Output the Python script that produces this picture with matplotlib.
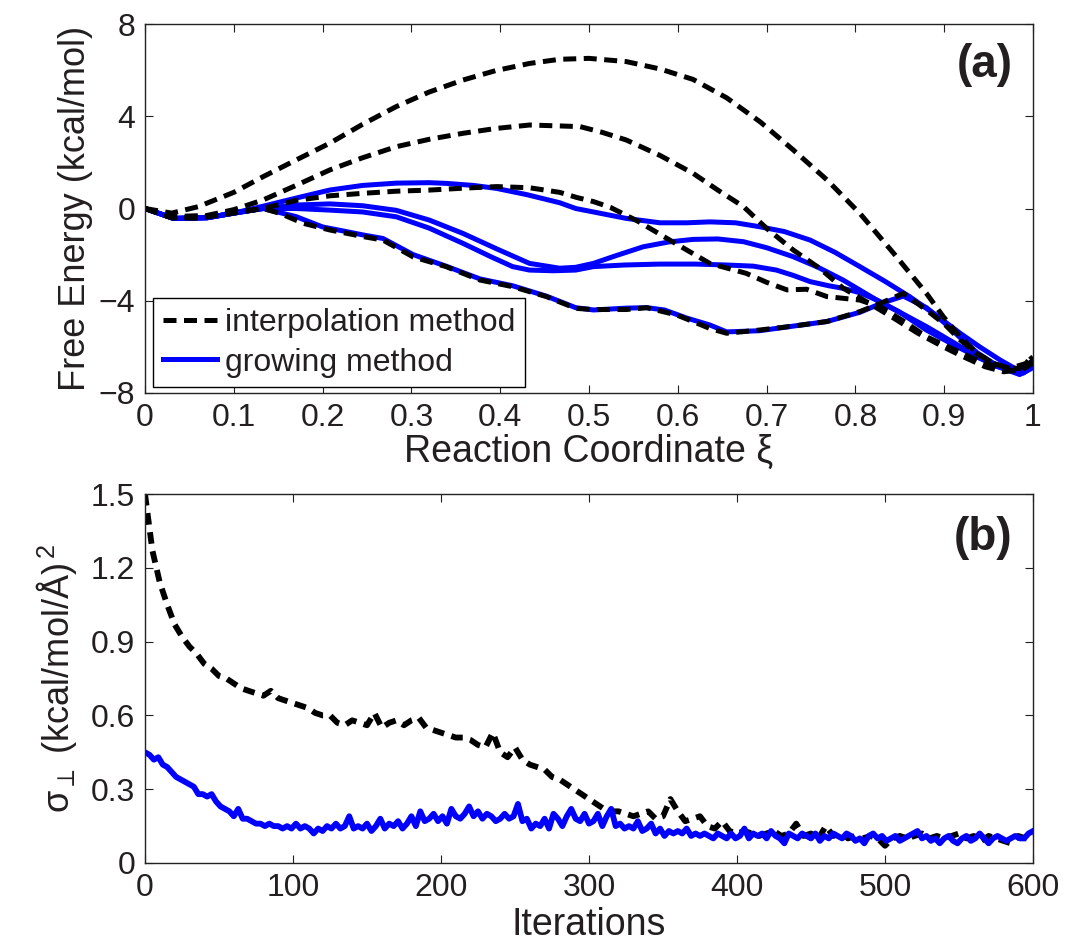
import numpy as np
import matplotlib
matplotlib.use("Agg")
import matplotlib.pyplot as plt
from matplotlib.ticker import FuncFormatter

plt.rcParams['font.family'] = ['Liberation Sans', 'DejaVu Sans']
plt.rcParams['mathtext.fontset'] = 'custom'
plt.rcParams['mathtext.rm'] = 'Liberation Sans'
plt.rcParams['mathtext.it'] = 'Liberation Sans:italic'

# --- panel (a): free energy profiles ---
xi_i1 = [0, 0.03, 0.06, 0.1, 0.133, 0.17, 0.208, 0.245, 0.283, 0.32, 0.358, 0.395, 0.433, 0.467,
         0.5, 0.542, 0.58, 0.617, 0.655, 0.693, 0.73, 0.768, 0.805, 0.843, 0.88, 0.899,
         0.918, 0.937, 0.955, 0.974, 0.992, 1.0]
fe_i1 = [0, -0.2, 0.08, 0.7, 1.38, 2.1, 2.83, 3.65, 4.42, 5.05, 5.57, 5.98, 6.29, 6.47,
         6.51, 6.37, 6.05, 5.6, 4.8, 3.75, 2.54, 1.24, -0.21, -1.94, -3.68, -4.69,
         -5.56, -6.28, -6.71, -6.93, -6.72, -6.35]

xi_i2 = [0, 0.03, 0.07, 0.1, 0.133, 0.17, 0.208, 0.245, 0.283, 0.32, 0.358, 0.395, 0.433, 0.467,
         0.49, 0.515, 0.542, 0.58, 0.617, 0.645, 0.674, 0.70, 0.73, 0.76, 0.786, 0.815, 0.843,
         0.87, 0.899, 0.92, 0.946, 0.967, 0.985, 1.0]
fe_i2 = [0, -0.35, -0.3, -0.05, 0.37, 1.0, 1.67, 2.2, 2.68, 3.0, 3.26, 3.47, 3.62, 3.58,
         3.55, 3.3, 2.97, 2.3, 1.53, 0.8, 0.08, -0.86, -1.8, -2.6, -3.45, -4.1, -4.75,
         -5.4, -6.0, -6.4, -6.86, -7.08, -7.0, -6.6]

xi_i3 = [0, 0.03, 0.07, 0.1, 0.133, 0.17, 0.208, 0.246, 0.283, 0.321, 0.358, 0.396, 0.433, 0.467,
         0.486, 0.505, 0.524, 0.555, 0.591, 0.636, 0.677, 0.70, 0.723, 0.745, 0.768, 0.805, 0.83,
         0.855, 0.88, 0.91, 0.937, 0.970, 0.985, 1.0]
fe_i3 = [0, -0.4, -0.35, -0.15, 0.0, 0.35, 0.55, 0.66, 0.75, 0.8, 0.88, 0.95, 0.9, 0.7,
         0.48, 0.3, 0.05, -0.55, -1.37, -2.38, -2.81, -3.2, -3.53, -3.5, -3.82, -3.97, -4.3,
         -4.9, -5.56, -6.1, -6.57, -7.0, -7.05, -6.7]

xi_i4 = [0, 0.03, 0.06, 0.1, 0.133, 0.152, 0.178, 0.208, 0.246, 0.268, 0.302, 0.339, 0.377, 0.414,
         0.452, 0.485, 0.505, 0.542, 0.565, 0.599, 0.617, 0.636, 0.655, 0.692, 0.73, 0.768,
         0.805, 0.824, 0.854, 0.88, 0.90, 0.918, 0.937, 0.955, 0.97, 0.985, 1.0]
fe_i4 = [0, -0.4, -0.42, -0.2, 0.0, -0.21, -0.64, -0.93, -1.22, -1.37, -2.1, -2.52, -3.1, -3.39,
         -3.82, -4.33, -4.38, -4.38, -4.3, -4.62, -4.9, -5.2, -5.41, -5.27, -5.1, -4.9,
         -4.47, -4.18, -3.68, -4.4, -5.0, -5.7, -6.3, -6.71, -6.9, -6.94, -6.43]

xi_g1 = [0, 0.032, 0.07, 0.1, 0.133, 0.17, 0.208, 0.245, 0.283, 0.32, 0.339, 0.37, 0.396, 0.43,
         0.467, 0.485, 0.505, 0.542, 0.58, 0.61, 0.636, 0.665, 0.692, 0.72, 0.749, 0.777, 0.805,
         0.833, 0.861, 0.89, 0.918, 0.94, 0.963, 0.989, 1.0]
fe_g1 = [0, -0.43, -0.4, -0.2, 0.1, 0.45, 0.8, 1.0, 1.1, 1.12, 1.09, 1.0, 0.87, 0.6,
         0.25, 0.0, -0.15, -0.43, -0.62, -0.62, -0.58, -0.62, -0.79, -1.0, -1.37, -1.9, -2.52,
         -3.15, -3.82, -4.6, -5.41, -6.0, -6.57, -7.14, -6.86]

xi_g2 = [0, 0.032, 0.07, 0.1, 0.133, 0.17, 0.208, 0.245, 0.283, 0.32, 0.358, 0.396, 0.433, 0.467,
         0.485, 0.505, 0.53, 0.561, 0.59, 0.617, 0.645, 0.674, 0.70, 0.730, 0.758, 0.786, 0.824,
         0.85, 0.880, 0.91, 0.937, 0.96, 0.985, 1.0]
fe_g2 = [0, -0.43, -0.4, -0.2, 0.0, 0.15, 0.2, 0.12, -0.08, -0.5, -1.08, -1.75, -2.38, -2.59,
         -2.55, -2.38, -2.05, -1.66, -1.45, -1.34, -1.32, -1.44, -1.7, -2.09, -2.55, -3.1, -3.97,
         -4.5, -5.27, -5.9, -6.43, -6.85, -7.14, -6.86]

xi_g3 = [0, 0.032, 0.07, 0.1, 0.133, 0.17, 0.208, 0.245, 0.283, 0.32, 0.358, 0.39, 0.414, 0.433,
         0.46, 0.485, 0.505, 0.54, 0.58, 0.62, 0.655, 0.685, 0.711, 0.73, 0.749, 0.77, 0.786,
         0.805, 0.824, 0.85, 0.880, 0.91, 0.937, 0.96, 0.985, 1.0]
fe_g3 = [0, -0.43, -0.4, -0.2, 0.0, 0.0, -0.07, -0.15, -0.36, -0.85, -1.51, -2.1, -2.52, -2.67,
         -2.7, -2.67, -2.52, -2.45, -2.41, -2.41, -2.45, -2.5, -2.67, -2.9, -3.17, -3.35, -3.46,
         -3.65, -3.97, -4.5, -5.12, -5.8, -6.43, -6.85, -7.2, -6.9]

xi_g4 = [0, 0.032, 0.07, 0.1, 0.133, 0.17, 0.2, 0.22, 0.246, 0.268, 0.302, 0.339, 0.377, 0.414,
         0.452, 0.485, 0.505, 0.542, 0.565, 0.585, 0.61, 0.636, 0.655, 0.692, 0.73, 0.768,
         0.805, 0.83, 0.854, 0.88, 0.90, 0.918, 0.937, 0.955, 0.97, 0.985, 1.0]
fe_g4 = [0, -0.43, -0.4, -0.2, 0.0, -0.35, -0.8, -0.95, -1.15, -1.3, -2.0, -2.5, -3.05, -3.35,
         -3.8, -4.3, -4.4, -4.32, -4.3, -4.4, -4.75, -5.05, -5.35, -5.3, -5.1, -4.9,
         -4.5, -4.1, -3.8, -4.3, -4.95, -5.6, -6.25, -6.7, -6.95, -7.05, -6.6]

# --- panel (b): sigma vs iterations ---
sigma_interp = [1.50, 1.27, 1.14, 1.05, 0.97, 0.92, 0.88, 0.85, 0.81, 0.79, 0.76, 0.75, 0.73,
                0.71, 0.70, 0.69, 0.68, 0.70, 0.67, 0.66, 0.65, 0.64, 0.63, 0.61, 0.60, 0.60,
                0.57, 0.56, 0.58, 0.57, 0.56, 0.61, 0.55, 0.57, 0.58, 0.56, 0.58, 0.59, 0.55,
                0.54, 0.53, 0.52, 0.51, 0.51, 0.50, 0.48, 0.47, 0.53, 0.45, 0.43, 0.47, 0.42,
                0.40, 0.39, 0.38, 0.35, 0.34, 0.32, 0.30, 0.28, 0.26, 0.24, 0.22, 0.21, 0.21,
                0.20, 0.19, 0.20, 0.21, 0.18, 0.19, 0.26, 0.21, 0.17, 0.18, 0.19, 0.15, 0.14,
                0.17, 0.13, 0.12, 0.13, 0.12, 0.11, 0.12, 0.13, 0.11, 0.12, 0.16, 0.11, 0.12,
                0.10, 0.15, 0.11, 0.12, 0.10, 0.11, 0.10, 0.11, 0.10, 0.07, 0.10, 0.11, 0.10,
                0.11, 0.12, 0.10, 0.11, 0.10, 0.11, 0.12, 0.10, 0.11, 0.09, 0.11, 0.10, 0.09,
                0.08, 0.11, 0.10, 0.11]
sigma_grow = [0.45, 0.44, 0.42, 0.43, 0.40, 0.39, 0.37, 0.35, 0.34, 0.33, 0.32, 0.31, 0.28, 0.28,
              0.27, 0.28, 0.25, 0.23, 0.22, 0.21, 0.19, 0.22, 0.18, 0.18, 0.17, 0.16, 0.16, 0.15,
              0.16, 0.15, 0.15, 0.14, 0.15, 0.14, 0.16, 0.14, 0.15, 0.14, 0.12, 0.14, 0.13, 0.15,
              0.14, 0.16, 0.14, 0.15, 0.19, 0.14, 0.15, 0.14, 0.16, 0.13, 0.15, 0.18, 0.14, 0.16,
              0.15, 0.17, 0.14, 0.16, 0.19, 0.15, 0.21, 0.17, 0.18, 0.20, 0.17, 0.19, 0.16, 0.22,
              0.19, 0.18, 0.20, 0.23, 0.19, 0.21, 0.18, 0.20, 0.19, 0.17, 0.18, 0.20, 0.18, 0.19,
              0.24, 0.17, 0.18, 0.14, 0.16, 0.15, 0.18, 0.14, 0.20, 0.18, 0.15, 0.19, 0.22, 0.18,
              0.17, 0.20, 0.16, 0.17, 0.20, 0.15, 0.19, 0.22, 0.15, 0.16, 0.14, 0.15, 0.14, 0.17,
              0.13, 0.14, 0.16, 0.12, 0.14, 0.11, 0.13, 0.12, 0.13, 0.12, 0.14, 0.11, 0.12, 0.11,
              0.12, 0.11, 0.10, 0.12, 0.11, 0.10, 0.12, 0.10, 0.11, 0.14, 0.10, 0.12, 0.11, 0.12,
              0.10, 0.13, 0.11, 0.10, 0.08, 0.12, 0.11, 0.10, 0.12, 0.11, 0.10, 0.12, 0.09, 0.11,
              0.10, 0.12, 0.11, 0.10, 0.12, 0.11, 0.09, 0.10, 0.08, 0.11, 0.12, 0.10, 0.11, 0.09,
              0.10, 0.11, 0.09, 0.10, 0.11, 0.12, 0.13, 0.10, 0.11, 0.09, 0.10, 0.08, 0.10, 0.11,
              0.09, 0.08, 0.10, 0.11, 0.09, 0.10, 0.12, 0.10, 0.08, 0.10, 0.11, 0.10, 0.09, 0.10,
              0.11, 0.10, 0.10, 0.12, 0.13]
iter_interp = np.linspace(0, 600, len(sigma_interp))
iter_grow = np.linspace(0, 600, len(sigma_grow))

xticks_a = [0, 0.1, 0.2, 0.3, 0.4, 0.5, 0.6, 0.7, 0.8, 0.9, 1]
yticks_a = [-8, -4, 0, 4, 8]
xticks_b = [0, 100, 200, 300, 400, 500, 600]
yticks_b = [0, 0.3, 0.6, 0.9, 1.2, 1.5]

BLUE = '#0000ff'
TXT = '#231f20'
FS = 23


def fmt(v, pos):
    return ('%g' % v).replace('-', '\u2212')


def style(ax):
    ax.tick_params(direction='in', length=6, width=0.8, top=True, right=True,
                   labelsize=FS, colors=TXT, pad=7)
    for s in ax.spines.values():
        s.set_linewidth(1.0)
        s.set_color('#222222')
    ax.xaxis.set_major_formatter(FuncFormatter(fmt))
    ax.yaxis.set_major_formatter(FuncFormatter(fmt))


fig = plt.figure(figsize=(10.65, 9.42), dpi=100)
W, H = 1065, 942
ax1 = fig.add_axes([145 / W, 1 - 393 / H, 888 / W, 369 / H])
ax2 = fig.add_axes([145 / W, 1 - 863 / H, 888 / W, 369 / H])

# panel (a)
lw_a = 3.6
dash_a = (2.6, 1.5)
for xs, ys in [(xi_g1, fe_g1), (xi_g2, fe_g2), (xi_g3, fe_g3), (xi_g4, fe_g4)]:
    ax1.plot(xs, ys, color=BLUE, lw=lw_a, solid_joinstyle='round')
for xs, ys in [(xi_i1, fe_i1), (xi_i2, fe_i2), (xi_i3, fe_i3), (xi_i4, fe_i4)]:
    ax1.plot(xs, ys, color='black', lw=lw_a, dashes=dash_a)

h_i, = ax1.plot([], [], color='black', lw=lw_a, dashes=dash_a)
h_g, = ax1.plot([], [], color=BLUE, lw=lw_a)
leg = ax1.legend([h_i, h_g], ['interpolation method', 'growing method'],
                 loc='lower left', bbox_to_anchor=(0.009, 0.016), borderaxespad=0,
                 fontsize=FS, fancybox=False, framealpha=1, edgecolor='black',
                 handlelength=1.7, handletextpad=0.25, borderpad=0.3, labelspacing=0.3)
leg.get_frame().set_linewidth(1.0)
for t in leg.get_texts():
    t.set_color(TXT)

ax1.set_xlim(0, 1)
ax1.set_ylim(-8, 8)
ax1.set_xticks(xticks_a)
ax1.set_yticks(yticks_a)
style(ax1)
ax1.set_xlabel('Reaction Coordinate \u03be', fontsize=27, color=TXT)
ax1.xaxis.set_label_coords(0.5, -0.11)
ax1.xaxis.label.set_va('top')
ax1.set_ylabel('Free Energy (kcal/mol)', fontsize=26, color=TXT)
ax1.yaxis.set_label_coords(-0.078, 0.5)
ax1.yaxis.label.set_va('center')
ax1.text(0.977, 0.89, '(a)', transform=ax1.transAxes, ha='right', va='center',
         fontsize=33, fontweight='bold', color=TXT)

# panel (b)
ax2.plot(iter_interp, sigma_interp, color='black', lw=4.2, dashes=(2.0, 1.3))
ax2.plot(iter_grow, sigma_grow, color=BLUE, lw=4.2, solid_joinstyle='round')
ax2.set_xlim(0, 600)
ax2.set_ylim(0, 1.5)
ax2.set_xticks(xticks_b)
ax2.set_yticks(yticks_b)
style(ax2)
ax2.set_xlabel('Iterations', fontsize=27, color=TXT)
ax2.xaxis.set_label_coords(0.5, -0.12)
ax2.xaxis.label.set_va('top')
ax2.set_ylabel(r'$\mathrm{\sigma}_\perp$ (kcal/mol/Å)$^{\,2}$', fontsize=26, color=TXT)
ax2.yaxis.set_label_coords(-0.1, 0.5)
ax2.yaxis.label.set_va('center')
ax2.text(0.977, 0.88, '(b)', transform=ax2.transAxes, ha='right', va='center',
         fontsize=33, fontweight='bold', color=TXT)

fig.savefig('out.png', dpi=100)
